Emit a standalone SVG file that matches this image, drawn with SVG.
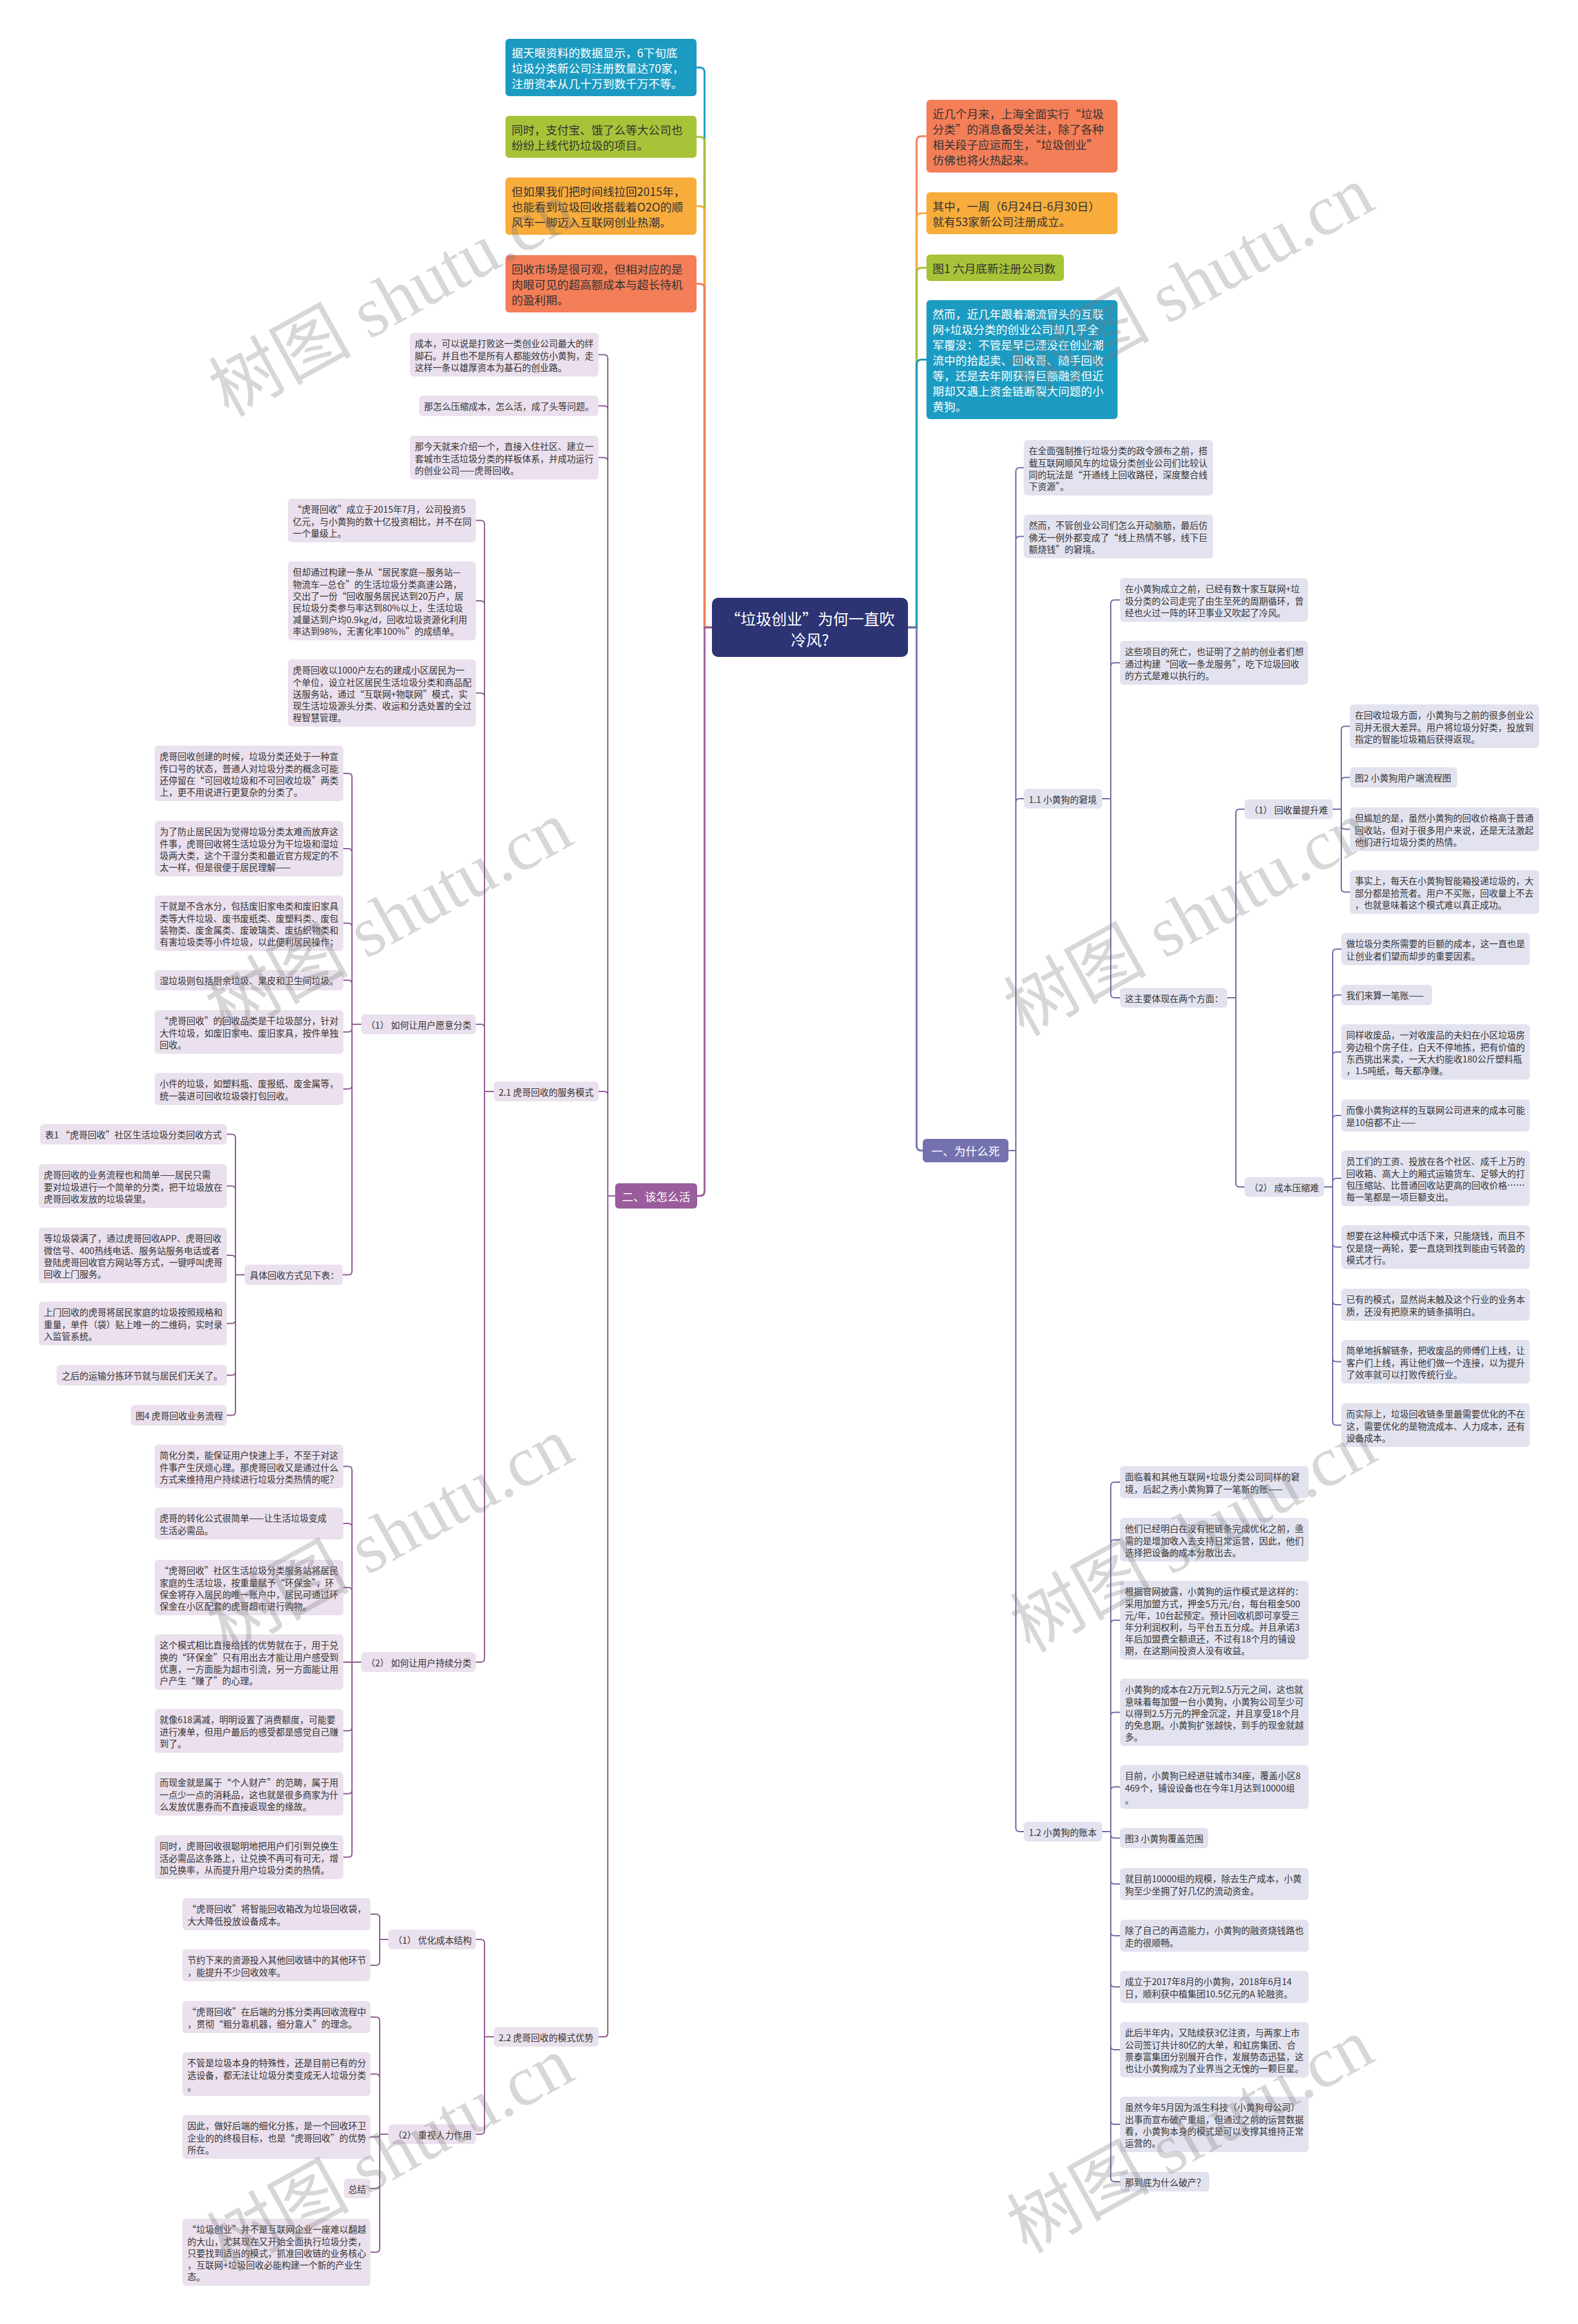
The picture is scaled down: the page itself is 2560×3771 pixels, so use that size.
<svg xmlns="http://www.w3.org/2000/svg" width="2560" height="3771" viewBox="0 0 2560 3771">
<style>
.s{font-family:"Noto Sans CJK SC","Noto Sans",sans-serif;font-size:14.5px;fill:#333;dominant-baseline:central}
.b{font-family:"Noto Sans CJK SC","Noto Sans",sans-serif;font-size:18.5px;fill:#333;dominant-baseline:central}
.c{font-family:"Noto Sans CJK SC","Noto Sans",sans-serif;font-size:25px;fill:#fff;dominant-baseline:central;text-anchor:middle}
.w{fill:#fff}
.nl{fill:#ebe0ed}
.nr{fill:#e3e3f0}
.cl{fill:none;stroke:#8c5a90;stroke-width:2}
.cr{fill:none;stroke:#6b6ba4;stroke-width:2}
.m{fill:none;stroke-width:3}
.wm{font-family:"Liberation Serif","Noto Sans CJK SC",serif;font-size:116px;fill:#7a7a7a;fill-opacity:0.3;text-anchor:middle}
</style>
<rect width="2560" height="3771" fill="#fff"/>
<g id="connectors">
<path class="m" stroke="#1b9bc2" d="M1155 1018 H1143 V117.5 Q1143 109.5 1135 109.5 H1130"/>
<path class="m" stroke="#a7c338" d="M1155 1018 H1143 V230 Q1143 222 1135 222 H1130"/>
<path class="m" stroke="#f8ac3b" d="M1155 1018 H1143 V342.5 Q1143 334.5 1135 334.5 H1130"/>
<path class="m" stroke="#f47e58" d="M1155 1018 H1143 V468.5 Q1143 460.5 1135 460.5 H1130"/>
<path class="m" stroke="#9a5c9c" d="M1155 1018 H1143 V1932.5 Q1143 1940.5 1135 1940.5 H1131"/>
<path class="m" stroke="#f47e58" d="M1473 1018 H1487 V229 Q1487 221 1495 221 H1503"/>
<path class="m" stroke="#f8ac3b" d="M1473 1018 H1487 V354 Q1487 346 1495 346 H1503"/>
<path class="m" stroke="#a7c338" d="M1473 1018 H1487 V442.5 Q1487 434.5 1495 434.5 H1503"/>
<path class="m" stroke="#1b9bc2" d="M1473 1018 H1487 V591.5 Q1487 583.5 1495 583.5 H1503"/>
<path class="m" stroke="#7472ae" d="M1473 1018 H1487 V1859 Q1487 1867 1495 1867 H1497"/>
<path class="cl" d="M998 1940.5 H986 M986 581.5 V3299 M986 581.5 Q986 575.5 980 575.5 H971 M986 664.5 Q986 658.5 980 658.5 H971 M986 748.5 Q986 742.5 980 742.5 H971 M986 1777 Q986 1771 980 1771 H971 M986 3299 Q986 3305 980 3305 H971"/>
<path class="cl" d="M801 1771 H786 M786 850.5 V2691 M786 850.5 Q786 844.5 780 844.5 H772 M786 981 Q786 975 780 975 H772 M786 1130.5 Q786 1124.5 780 1124.5 H772 M786 1668 Q786 1662 780 1662 H772 M786 2691 Q786 2697 780 2697 H772"/>
<path class="cl" d="M586 1662 H571 M571 1261 V2062.5 M571 1261 Q571 1255 565 1255 H557 M571 1383 Q571 1377 565 1377 H557 M571 1504 Q571 1498 565 1498 H557 M571 1596.5 Q571 1590.5 565 1590.5 H557 M571 1668.5 Q571 1674.5 565 1674.5 H557 M571 1761 Q571 1767 565 1767 H557 M571 2062.5 Q571 2068.5 565 2068.5 H556"/>
<path class="cl" d="M397 2068.5 H382 M382 1846.5 V2290.5 M382 1846.5 Q382 1840.5 376 1840.5 H368 M382 1930.5 Q382 1924.5 376 1924.5 H368 M382 2043 Q382 2037 376 2037 H368 M382 2141.5 Q382 2147.5 376 2147.5 H368 M382 2225.5 Q382 2231.5 376 2231.5 H368 M382 2290.5 Q382 2296.5 376 2296.5 H368"/>
<path class="cl" d="M586 2697 H557 M571 2385.5 V3007.5 M571 2385.5 Q571 2379.5 565 2379.5 H557 M571 2478 Q571 2472 565 2472 H557 M571 2582 Q571 2576 565 2576 H557 M571 2802.5 Q571 2808.5 565 2808.5 H557 M571 2904.5 Q571 2910.5 565 2910.5 H557 M571 3007.5 Q571 3013.5 565 3013.5 H557"/>
<path class="cl" d="M801 3305 H786 M786 3153 V3457 M786 3153 Q786 3147 780 3147 H772 M786 3457 Q786 3463 780 3463 H772"/>
<path class="cl" d="M630 3147 H616 M616 3112 V3183 M616 3112 Q616 3106 610 3106 H601 M616 3183 Q616 3189 610 3189 H601"/>
<path class="cl" d="M630 3463 H616 M616 3279 V3648.5 M616 3279 Q616 3273 610 3273 H601 M616 3371.5 Q616 3365.5 610 3365.5 H601 M616 3463 Q616 3467.5 611.5 3467.5 H601 M616 3545 Q616 3551 610 3551 H601 M616 3648.5 Q616 3654.5 610 3654.5 H601"/>
<path class="cr" d="M1636 1867 H1648 M1648 765 V2966 M1648 765 Q1648 759 1654 759 H1661 M1648 876.5 Q1648 870.5 1654 870.5 H1661 M1648 1302 Q1648 1296 1654 1296 H1661 M1648 2966 Q1648 2972 1654 2972 H1661"/>
<path class="cr" d="M1788 1296 H1802 M1802 979.5 V1613 M1802 979.5 Q1802 973.5 1808 973.5 H1817 M1802 1081.5 Q1802 1075.5 1808 1075.5 H1817 M1802 1613 Q1802 1619 1808 1619 H1817"/>
<path class="cr" d="M1991 1619 H2005 M2005 1319 V1920 M2005 1319 Q2005 1313 2011 1313 H2019 M2005 1920 Q2005 1926 2011 1926 H2019"/>
<path class="cr" d="M2162 1313 H2176 M2176 1184.5 V1441.5 M2176 1184.5 Q2176 1178.5 2182 1178.5 H2190 M2176 1267.5 Q2176 1261.5 2182 1261.5 H2190 M2176 1339.5 Q2176 1345.5 2182 1345.5 H2190 M2176 1441.5 Q2176 1447.5 2182 1447.5 H2190"/>
<path class="cr" d="M2148 1926 H2162 M2162 1546 V2306.5 M2162 1546 Q2162 1540 2168 1540 H2176 M2162 1620.5 Q2162 1614.5 2168 1614.5 H2176 M2162 1713 Q2162 1707 2168 1707 H2176 M2162 1816 Q2162 1810 2168 1810 H2176 M2162 1918 Q2162 1912 2168 1912 H2176 M2162 2017.5 Q2162 2023.5 2168 2023.5 H2176 M2162 2111 Q2162 2117 2168 2117 H2176 M2162 2203.5 Q2162 2209.5 2168 2209.5 H2176 M2162 2306.5 Q2162 2312.5 2168 2312.5 H2176"/>
<path class="cr" d="M1788 2972 H1802 M1802 2411 V3534 M1802 2411 Q1802 2405 1808 2405 H1817 M1802 2504.5 Q1802 2498.5 1808 2498.5 H1817 M1802 2635 Q1802 2629 1808 2629 H1817 M1802 2784.5 Q1802 2778.5 1808 2778.5 H1817 M1802 2905.5 Q1802 2899.5 1808 2899.5 H1817 M1802 2976.5 Q1802 2982.5 1808 2982.5 H1817 M1802 3051 Q1802 3057 1808 3057 H1817 M1802 3135 Q1802 3141 1808 3141 H1817 M1802 3218 Q1802 3224 1808 3224 H1817 M1802 3320 Q1802 3326 1808 3326 H1817 M1802 3441 Q1802 3447 1808 3447 H1817 M1802 3534 Q1802 3540 1808 3540 H1817"/>
</g>

<g id="center"><rect x="1155" y="970" width="318" height="96" rx="10" fill="#2c3474"/><text class="c" x="1314" y="1003">“垃圾创业”为何一直吹<tspan x="1314" dy="34">冷风?</tspan></text></g>

<g id="n-top-a"><rect x="820" y="63" width="310" height="93" rx="6" fill="#1b9bc2"/><text class="b w" x="830" y="84.5">据天眼资料的数据显示，6下旬底<tspan x="830" dy="25">垃圾分类新公司注册数量达70家，</tspan><tspan x="830" dy="25">注册资本从几十万到数千万不等。</tspan></text></g>
<g id="n-top-b"><rect x="820" y="188" width="310" height="68" rx="6" fill="#a7c338"/><text class="b" x="830" y="209.5">同时，支付宝、饿了么等大公司也<tspan x="830" dy="25">纷纷上线代扔垃圾的项目。</tspan></text></g>
<g id="n-top-c"><rect x="820" y="288" width="310" height="93" rx="6" fill="#f8ac3b"/><text class="b" x="830" y="309.5">但如果我们把时间线拉回2015年，<tspan x="830" dy="25">也能看到垃圾回收搭载着O2O的顺</tspan><tspan x="830" dy="25">风车一脚迈入互联网创业热潮。</tspan></text></g>
<g id="n-top-d"><rect x="820" y="414" width="310" height="93" rx="6" fill="#f47e58"/><text class="b" x="830" y="435.5">回收市场是很可观，但相对应的是<tspan x="830" dy="25">肉眼可见的超高额成本与超长待机</tspan><tspan x="830" dy="25">的盈利期。</tspan></text></g>
<g id="n-top-e"><rect x="1503" y="162" width="310" height="118" rx="6" fill="#f47e58"/><text class="b" x="1513" y="183.5">近几个月来，上海全面实行“垃圾<tspan x="1513" dy="25">分类”的消息备受关注，除了各种</tspan><tspan x="1513" dy="25">相关段子应运而生，“垃圾创业”</tspan><tspan x="1513" dy="25">仿佛也将火热起来。</tspan></text></g>
<g id="n-top-f"><rect x="1503" y="312" width="310" height="68" rx="6" fill="#f8ac3b"/><text class="b" x="1513" y="333.5">其中，一周（6月24日-6月30日）<tspan x="1513" dy="25">就有53家新公司注册成立。</tspan></text></g>
<g id="n-top-g"><rect x="1503" y="413" width="223" height="43" rx="6" fill="#a7c338"/><text class="b" x="1513" y="434.5">图1 六月底新注册公司数</text></g>
<g id="n-top-h"><rect x="1503" y="487" width="310" height="193" rx="6" fill="#1b9bc2"/><text class="b w" x="1513" y="508.5">然而，近几年跟着潮流冒头的互联<tspan x="1513" dy="25">网+垃圾分类的创业公司却几乎全</tspan><tspan x="1513" dy="25">军覆没：不管是早已湮没在创业潮</tspan><tspan x="1513" dy="25">流中的拾起卖、回收哥、随手回收</tspan><tspan x="1513" dy="25">等，还是去年刚获得巨额融资但近</tspan><tspan x="1513" dy="25">期却又遇上资金链断裂大问题的小</tspan><tspan x="1513" dy="25">黄狗。</tspan></text></g>

<g id="n-branch-1"><rect x="1497" y="1848" width="139" height="38" rx="6" fill="#7472ae"/><text class="b w" x="1566.5" y="1867" text-anchor="middle">一、为什么死</text></g>
<g id="n-branch-2"><rect x="998" y="1920" width="133" height="41" rx="6" fill="#9a5c9c"/><text class="b w" x="1064.5" y="1940.5" text-anchor="middle">二、该怎么活</text></g>

<g id="n-l1"><rect class="nl" x="665" y="540" width="306" height="71" rx="6"/><text class="s" x="673" y="556.5">成本，可以说是打败这一类创业公司最大的绊<tspan x="673" dy="19">脚石。并且也不是所有人都能效仿小黄狗，走</tspan><tspan x="673" dy="19">这样一条以雄厚资本为基石的创业路。</tspan></text></g>
<g id="n-l2"><rect class="nl" x="680" y="642" width="291" height="33" rx="6"/><text class="s" x="688" y="658.5">那怎么压缩成本，怎么活，成了头等问题。</text></g>
<g id="n-l3"><rect class="nl" x="665" y="707" width="306" height="71" rx="6"/><text class="s" x="673" y="723.5">那今天就来介绍一个，直接入住社区、建立一<tspan x="673" dy="19">套城市生活垃圾分类的样板体系，并成功运行</tspan><tspan x="673" dy="19">的创业公司——虎哥回收。</tspan></text></g>
<g id="n-l21"><rect class="nl" x="801" y="1755" width="170" height="32" rx="6"/><text class="s" x="809" y="1771">2.1 虎哥回收的服务模式</text></g>
<g id="n-l22"><rect class="nl" x="801" y="3289" width="170" height="32" rx="6"/><text class="s" x="809" y="3305">2.2 虎哥回收的模式优势</text></g>

<g id="n-l4"><rect class="nl" x="467" y="809" width="305" height="71" rx="6"/><text class="s" x="475" y="825.5">“虎哥回收”成立于2015年7月，公司投资5<tspan x="475" dy="19">亿元，与小黄狗的数十亿投资相比，并不在同</tspan><tspan x="475" dy="19">一个量级上。</tspan></text></g>
<g id="n-l5"><rect class="nl" x="467" y="911" width="305" height="128" rx="6"/><text class="s" x="475" y="927.5">但却通过构建一条从“居民家庭—服务站—<tspan x="475" dy="19">物流车—总仓”的生活垃圾分类高速公路，</tspan><tspan x="475" dy="19">交出了一份“回收服务居民达到20万户，居</tspan><tspan x="475" dy="19">民垃圾分类参与率达到80%以上，生活垃圾</tspan><tspan x="475" dy="19">减量达到户均0.9kg/d，回收垃圾资源化利用</tspan><tspan x="475" dy="19">率达到98%，无害化率100%”的成绩单。</tspan></text></g>
<g id="n-l6"><rect class="nl" x="467" y="1070" width="305" height="109" rx="6"/><text class="s" x="475" y="1086.5">虎哥回收以1000户左右的建成小区居民为一<tspan x="475" dy="19">个单位，设立社区居民生活垃圾分类和商品配</tspan><tspan x="475" dy="19">送服务站，通过“互联网+物联网”模式，实</tspan><tspan x="475" dy="19">现生活垃圾源头分类、收运和分选处置的全过</tspan><tspan x="475" dy="19">程智慧管理。</tspan></text></g>
<g id="n-l7"><rect class="nl" x="586" y="1646" width="186" height="32" rx="6"/><text class="s" x="594" y="1662">（1） 如何让用户愿意分类</text></g>
<g id="n-l8"><rect class="nl" x="586" y="2681" width="186" height="32" rx="6"/><text class="s" x="594" y="2697">（2） 如何让用户持续分类</text></g>

<g id="n-l9"><rect class="nl" x="251" y="1210" width="306" height="90" rx="6"/><text class="s" x="259" y="1226.5">虎哥回收创建的时候，垃圾分类还处于一种宣<tspan x="259" dy="19">传口号的状态，普通人对垃圾分类的概念可能</tspan><tspan x="259" dy="19">还停留在“可回收垃圾和不可回收垃圾”两类</tspan><tspan x="259" dy="19">上，更不用说进行更复杂的分类了。</tspan></text></g>
<g id="n-l10"><rect class="nl" x="251" y="1332" width="306" height="90" rx="6"/><text class="s" x="259" y="1348.5">为了防止居民因为觉得垃圾分类太难而放弃这<tspan x="259" dy="19">件事，虎哥回收将生活垃圾分为干垃圾和湿垃</tspan><tspan x="259" dy="19">圾两大类，这个干湿分类和最近官方规定的不</tspan><tspan x="259" dy="19">太一样，但是很便于居民理解——</tspan></text></g>
<g id="n-l11"><rect class="nl" x="251" y="1453" width="306" height="90" rx="6"/><text class="s" x="259" y="1469.5">干就是不含水分，包括废旧家电类和废旧家具<tspan x="259" dy="19">类等大件垃圾、废书废纸类、废塑料类、废包</tspan><tspan x="259" dy="19">装物类、废金属类、废玻璃类、废纺织物类和</tspan><tspan x="259" dy="19">有害垃圾类等小件垃圾，以此便利居民操作；</tspan></text></g>
<g id="n-l12"><rect class="nl" x="251" y="1574" width="306" height="33" rx="6"/><text class="s" x="259" y="1590.5">湿垃圾则包括厨余垃圾、果皮和卫生间垃圾。</text></g>
<g id="n-l13"><rect class="nl" x="251" y="1639" width="306" height="71" rx="6"/><text class="s" x="259" y="1655.5">“虎哥回收”的回收品类是干垃圾部分，针对<tspan x="259" dy="19">大件垃圾，如废旧家电、废旧家具，按件单独</tspan><tspan x="259" dy="19">回收。</tspan></text></g>
<g id="n-l14"><rect class="nl" x="251" y="1741" width="306" height="52" rx="6"/><text class="s" x="259" y="1757.5">小件的垃圾，如塑料瓶、废报纸、废金属等，<tspan x="259" dy="19">统一装进可回收垃圾袋打包回收。</tspan></text></g>
<g id="n-l15"><rect class="nl" x="397" y="2052" width="159" height="33" rx="6"/><text class="s" x="405" y="2068.5">具体回收方式见下表：</text></g>

<g id="n-l16"><rect class="nl" x="65" y="1824" width="303" height="33" rx="6"/><text class="s" x="73" y="1840.5">表1 “虎哥回收”社区生活垃圾分类回收方式</text></g>
<g id="n-l17"><rect class="nl" x="63" y="1889" width="305" height="71" rx="6"/><text class="s" x="71" y="1905.5">虎哥回收的业务流程也和简单——居民只需<tspan x="71" dy="19">要对垃圾进行一个简单的分类，把干垃圾放在</tspan><tspan x="71" dy="19">虎哥回收发放的垃圾袋里。</tspan></text></g>
<g id="n-l18"><rect class="nl" x="63" y="1992" width="305" height="90" rx="6"/><text class="s" x="71" y="2008.5">等垃圾袋满了，通过虎哥回收APP、虎哥回收<tspan x="71" dy="19">微信号、400热线电话、服务站服务电话或者</tspan><tspan x="71" dy="19">登陆虎哥回收官方网站等方式，一键呼叫虎哥</tspan><tspan x="71" dy="19">回收上门服务。</tspan></text></g>
<g id="n-l19"><rect class="nl" x="63" y="2112" width="305" height="71" rx="6"/><text class="s" x="71" y="2128.5">上门回收的虎哥将居民家庭的垃圾按照规格和<tspan x="71" dy="19">重量，单件（袋）贴上唯一的二维码，实时录</tspan><tspan x="71" dy="19">入监管系统。</tspan></text></g>
<g id="n-l20"><rect class="nl" x="92" y="2215" width="276" height="33" rx="6"/><text class="s" x="100" y="2231.5">之后的运输分拣环节就与居民们无关了。</text></g>
<g id="n-l23"><rect class="nl" x="212" y="2280" width="156" height="33" rx="6"/><text class="s" x="220" y="2296.5">图4 虎哥回收业务流程</text></g>

<g id="n-l24"><rect class="nl" x="251" y="2344" width="306" height="71" rx="6"/><text class="s" x="259" y="2360.5">简化分类，能保证用户快速上手，不至于对这<tspan x="259" dy="19">件事产生厌烦心理。那虎哥回收又是通过什么</tspan><tspan x="259" dy="19">方式来维持用户持续进行垃圾分类热情的呢？</tspan></text></g>
<g id="n-l25"><rect class="nl" x="251" y="2446" width="306" height="52" rx="6"/><text class="s" x="259" y="2462.5">虎哥的转化公式很简单——让生活垃圾变成<tspan x="259" dy="19">生活必需品。</tspan></text></g>
<g id="n-l26"><rect class="nl" x="251" y="2531" width="306" height="90" rx="6"/><text class="s" x="259" y="2547.5">“虎哥回收”社区生活垃圾分类服务站将居民<tspan x="259" dy="19">家庭的生活垃圾，按重量赋予“环保金”，环</tspan><tspan x="259" dy="19">保金将存入居民的唯一账户中，居民可通过环</tspan><tspan x="259" dy="19">保金在小区配套的虎哥超市进行购物。</tspan></text></g>
<g id="n-l27"><rect class="nl" x="251" y="2652" width="306" height="90" rx="6"/><text class="s" x="259" y="2668.5">这个模式相比直接给钱的优势就在于，用于兑<tspan x="259" dy="19">换的“环保金”只有用出去才能让用户感受到</tspan><tspan x="259" dy="19">优惠，一方面能为超市引流，另一方面能让用</tspan><tspan x="259" dy="19">户产生“赚了”的心理。</tspan></text></g>
<g id="n-l28"><rect class="nl" x="251" y="2773" width="306" height="71" rx="6"/><text class="s" x="259" y="2789.5">就像618满减，明明设置了消费额度，可能要<tspan x="259" dy="19">进行凑单，但用户最后的感受都是感觉自己赚</tspan><tspan x="259" dy="19">到了。</tspan></text></g>
<g id="n-l29"><rect class="nl" x="251" y="2875" width="306" height="71" rx="6"/><text class="s" x="259" y="2891.5">而现金就是属于“个人财产”的范畴，属于用<tspan x="259" dy="19">一点少一点的消耗品，这也就是很多商家为什</tspan><tspan x="259" dy="19">么发放优惠券而不直接返现金的缘故。</tspan></text></g>
<g id="n-l30"><rect class="nl" x="251" y="2978" width="306" height="71" rx="6"/><text class="s" x="259" y="2994.5">同时，虎哥回收很聪明地把用户们引到兑换生<tspan x="259" dy="19">活必需品这条路上，让兑换不再可有可无，增</tspan><tspan x="259" dy="19">加兑换率，从而提升用户垃圾分类的热情。</tspan></text></g>

<g id="n-l31"><rect class="nl" x="630" y="3131" width="142" height="32" rx="6"/><text class="s" x="638" y="3147">（1） 优化成本结构</text></g>
<g id="n-l32"><rect class="nl" x="630" y="3447" width="142" height="32" rx="6"/><text class="s" x="638" y="3463">（2） 重视人力作用</text></g>
<g id="n-l33"><rect class="nl" x="296" y="3080" width="305" height="52" rx="6"/><text class="s" x="304" y="3096.5">“虎哥回收”将智能回收箱改为垃圾回收袋，<tspan x="304" dy="19">大大降低投放设备成本。</tspan></text></g>
<g id="n-l34"><rect class="nl" x="296" y="3163" width="305" height="52" rx="6"/><text class="s" x="304" y="3179.5">节约下来的资源投入其他回收链中的其他环节<tspan x="304" dy="19">，能提升不少回收效率。</tspan></text></g>
<g id="n-l35"><rect class="nl" x="296" y="3247" width="305" height="52" rx="6"/><text class="s" x="304" y="3263.5">“虎哥回收”在后端的分拣分类再回收流程中<tspan x="304" dy="19">，贯彻“粗分靠机器，细分靠人”的理念。</tspan></text></g>
<g id="n-l36"><rect class="nl" x="296" y="3330" width="305" height="71" rx="6"/><text class="s" x="304" y="3346.5">不管是垃圾本身的特殊性，还是目前已有的分<tspan x="304" dy="19">选设备，都无法让垃圾分类变成无人垃圾分类</tspan><tspan x="304" dy="19">。</tspan></text></g>
<g id="n-l37"><rect class="nl" x="296" y="3432" width="305" height="71" rx="6"/><text class="s" x="304" y="3448.5">因此，做好后端的细化分拣，是一个回收环卫<tspan x="304" dy="19">企业的的终极目标，也是“虎哥回收”的优势</tspan><tspan x="304" dy="19">所在。</tspan></text></g>
<g id="n-l38"><rect class="nl" x="558" y="3535" width="43" height="32" rx="6"/><text class="s" x="565" y="3551">总结</text></g>
<g id="n-l39"><rect class="nl" x="296" y="3600" width="305" height="109" rx="6"/><text class="s" x="304" y="3616.5">“垃圾创业”并不是互联网企业一座难以翻越<tspan x="304" dy="19">的大山，尤其现在又开始全面执行垃圾分类，</tspan><tspan x="304" dy="19">只要找到适当的模式，抓准回收链的业务核心</tspan><tspan x="304" dy="19">，互联网+垃圾回收必能构建一个新的产业生</tspan><tspan x="304" dy="19">态。</tspan></text></g>

<g id="n-r1"><rect class="nr" x="1661" y="714" width="307" height="90" rx="6"/><text class="s" x="1669" y="730.5">在全面强制推行垃圾分类的政令颁布之前，搭<tspan x="1669" dy="19">载互联网顺风车的垃圾分类创业公司们比较认</tspan><tspan x="1669" dy="19">同的玩法是“开通线上回收路径，深度整合线</tspan><tspan x="1669" dy="19">下资源”。</tspan></text></g>
<g id="n-r2"><rect class="nr" x="1661" y="835" width="307" height="71" rx="6"/><text class="s" x="1669" y="851.5">然而，不管创业公司们怎么开动脑筋，最后仿<tspan x="1669" dy="19">佛无一例外都变成了“线上热情不够，线下巨</tspan><tspan x="1669" dy="19">额烧钱”的窘境。</tspan></text></g>
<g id="n-r11"><rect class="nr" x="1661" y="1280" width="127" height="32" rx="6"/><text class="s" x="1669" y="1296">1.1 小黄狗的窘境</text></g>
<g id="n-r12"><rect class="nr" x="1661" y="2956" width="127" height="32" rx="6"/><text class="s" x="1669" y="2972">1.2 小黄狗的账本</text></g>

<g id="n-r3"><rect class="nr" x="1817" y="938" width="305" height="71" rx="6"/><text class="s" x="1825" y="954.5">在小黄狗成立之前，已经有数十家互联网+垃<tspan x="1825" dy="19">圾分类的公司走完了由生至死的周期循环，曾</tspan><tspan x="1825" dy="19">经也火过一阵的环卫事业又吹起了冷风。</tspan></text></g>
<g id="n-r4"><rect class="nr" x="1817" y="1040" width="305" height="71" rx="6"/><text class="s" x="1825" y="1056.5">这些项目的死亡，也证明了之前的创业者们想<tspan x="1825" dy="19">通过构建“回收一条龙服务”，吃下垃圾回收</tspan><tspan x="1825" dy="19">的方式是难以执行的。</tspan></text></g>
<g id="n-r5"><rect class="nr" x="1817" y="1603" width="174" height="32" rx="6"/><text class="s" x="1825" y="1619">这主要体现在两个方面：</text></g>
<g id="n-r6"><rect class="nr" x="2019" y="1297" width="143" height="32" rx="6"/><text class="s" x="2027" y="1313">（1） 回收量提升难</text></g>
<g id="n-r7"><rect class="nr" x="2019" y="1910" width="129" height="32" rx="6"/><text class="s" x="2027" y="1926">（2） 成本压缩难</text></g>

<g id="n-r8"><rect class="nr" x="2190" y="1143" width="307" height="71" rx="6"/><text class="s" x="2198" y="1159.5">在回收垃圾方面，小黄狗与之前的很多创业公<tspan x="2198" dy="19">司并无很大差异。用户将垃圾分好类，投放到</tspan><tspan x="2198" dy="19">指定的智能垃圾箱后获得返现。</tspan></text></g>
<g id="n-r9"><rect class="nr" x="2190" y="1245" width="174" height="33" rx="6"/><text class="s" x="2198" y="1261.5">图2 小黄狗用户端流程图</text></g>
<g id="n-r10"><rect class="nr" x="2190" y="1310" width="307" height="71" rx="6"/><text class="s" x="2198" y="1326.5">但尴尬的是，虽然小黄狗的回收价格高于普通<tspan x="2198" dy="19">回收站，但对于很多用户来说，还是无法激起</tspan><tspan x="2198" dy="19">他们进行垃圾分类的热情。</tspan></text></g>
<g id="n-r13"><rect class="nr" x="2190" y="1412" width="307" height="71" rx="6"/><text class="s" x="2198" y="1428.5">事实上，每天在小黄狗智能箱投递垃圾的，大<tspan x="2198" dy="19">部分都是拾荒者。用户不买账，回收量上不去</tspan><tspan x="2198" dy="19">，也就意味着这个模式难以真正成功。</tspan></text></g>

<g id="n-r14"><rect class="nr" x="2176" y="1514" width="306" height="52" rx="6"/><text class="s" x="2184" y="1530.5">做垃圾分类所需要的巨额的成本，这一直也是<tspan x="2184" dy="19">让创业者们望而却步的重要因素。</tspan></text></g>
<g id="n-r15"><rect class="nr" x="2176" y="1598" width="147" height="33" rx="6"/><text class="s" x="2184" y="1614.5">我们来算一笔账——</text></g>
<g id="n-r16"><rect class="nr" x="2176" y="1662" width="306" height="90" rx="6"/><text class="s" x="2184" y="1678.5">同样收废品，一对收废品的夫妇在小区垃圾房<tspan x="2184" dy="19">旁边租个房子住，白天不停地拣，把有价值的</tspan><tspan x="2184" dy="19">东西挑出来卖，一天大约能收180公斤塑料瓶</tspan><tspan x="2184" dy="19">，1.5吨纸，每天都净赚。</tspan></text></g>
<g id="n-r17"><rect class="nr" x="2176" y="1784" width="306" height="52" rx="6"/><text class="s" x="2184" y="1800.5">而像小黄狗这样的互联网公司进来的成本可能<tspan x="2184" dy="19">是10倍都不止——</tspan></text></g>
<g id="n-r18"><rect class="nr" x="2176" y="1867" width="306" height="90" rx="6"/><text class="s" x="2184" y="1883.5">员工们的工资、投放在各个社区、成千上万的<tspan x="2184" dy="19">回收箱、高大上的厢式运输货车、足够大的打</tspan><tspan x="2184" dy="19">包压缩站、比普通回收站更高的回收价格……</tspan><tspan x="2184" dy="19">每一笔都是一项巨额支出。</tspan></text></g>
<g id="n-r19"><rect class="nr" x="2176" y="1988" width="306" height="71" rx="6"/><text class="s" x="2184" y="2004.5">想要在这种模式中活下来，只能烧钱，而且不<tspan x="2184" dy="19">仅是烧一两轮，要一直烧到找到能由亏转盈的</tspan><tspan x="2184" dy="19">模式才行。</tspan></text></g>
<g id="n-r20"><rect class="nr" x="2176" y="2091" width="306" height="52" rx="6"/><text class="s" x="2184" y="2107.5">已有的模式，显然尚未触及这个行业的业务本<tspan x="2184" dy="19">质，还没有把原来的链条搞明白。</tspan></text></g>
<g id="n-r21"><rect class="nr" x="2176" y="2174" width="306" height="71" rx="6"/><text class="s" x="2184" y="2190.5">简单地拆解链条，把收废品的师傅们上线，让<tspan x="2184" dy="19">客户们上线，再让他们做一个连接，以为提升</tspan><tspan x="2184" dy="19">了效率就可以打败传统行业。</tspan></text></g>
<g id="n-r22"><rect class="nr" x="2176" y="2277" width="306" height="71" rx="6"/><text class="s" x="2184" y="2293.5">而实际上，垃圾回收链条里最需要优化的不在<tspan x="2184" dy="19">这，需要优化的是物流成本、人力成本，还有</tspan><tspan x="2184" dy="19">设备成本。</tspan></text></g>

<g id="n-r23"><rect class="nr" x="1817" y="2379" width="306" height="52" rx="6"/><text class="s" x="1825" y="2395.5">面临着和其他互联网+垃圾分类公司同样的窘<tspan x="1825" dy="19">境，后起之秀小黄狗算了一笔新的账——</tspan></text></g>
<g id="n-r24"><rect class="nr" x="1817" y="2463" width="306" height="71" rx="6"/><text class="s" x="1825" y="2479.5">他们已经明白在没有把链条完成优化之前，亟<tspan x="1825" dy="19">需的是增加收入去支持日常运营，因此，他们</tspan><tspan x="1825" dy="19">选择把设备的成本分散出去。</tspan></text></g>
<g id="n-r25"><rect class="nr" x="1817" y="2565" width="306" height="128" rx="6"/><text class="s" x="1825" y="2581.5">根据官网披露，小黄狗的运作模式是这样的：<tspan x="1825" dy="19">采用加盟方式，押金5万元/台，每台租金500</tspan><tspan x="1825" dy="19">元/年，10台起预定。预计回收机即可享受三</tspan><tspan x="1825" dy="19">年分利润权利，与平台五五分成。并且承诺3</tspan><tspan x="1825" dy="19">年后加盟费全额退还，不过有18个月的铺设</tspan><tspan x="1825" dy="19">期，在这期间投资人没有收益。</tspan></text></g>
<g id="n-r26"><rect class="nr" x="1817" y="2724" width="306" height="109" rx="6"/><text class="s" x="1825" y="2740.5">小黄狗的成本在2万元到2.5万元之间，这也就<tspan x="1825" dy="19">意味着每加盟一台小黄狗，小黄狗公司至少可</tspan><tspan x="1825" dy="19">以得到2.5万元的押金沉淀，并且享受18个月</tspan><tspan x="1825" dy="19">的免息期。小黄狗扩张越快，到手的现金就越</tspan><tspan x="1825" dy="19">多。</tspan></text></g>
<g id="n-r27"><rect class="nr" x="1817" y="2864" width="306" height="71" rx="6"/><text class="s" x="1825" y="2880.5">目前，小黄狗已经进驻城市34座，覆盖小区8<tspan x="1825" dy="19">469个，铺设设备也在今年1月达到10000组</tspan><tspan x="1825" dy="19">。</tspan></text></g>
<g id="n-r28"><rect class="nr" x="1817" y="2966" width="143" height="33" rx="6"/><text class="s" x="1825" y="2982.5">图3 小黄狗覆盖范围</text></g>
<g id="n-r29"><rect class="nr" x="1817" y="3031" width="306" height="52" rx="6"/><text class="s" x="1825" y="3047.5">就目前10000组的规模，除去生产成本，小黄<tspan x="1825" dy="19">狗至少坐拥了好几亿的流动资金。</tspan></text></g>
<g id="n-r30"><rect class="nr" x="1817" y="3115" width="306" height="52" rx="6"/><text class="s" x="1825" y="3131.5">除了自己的再造能力，小黄狗的融资烧钱路也<tspan x="1825" dy="19">走的很顺畅。</tspan></text></g>
<g id="n-r31"><rect class="nr" x="1817" y="3198" width="306" height="52" rx="6"/><text class="s" x="1825" y="3214.5">成立于2017年8月的小黄狗，2018年6月14<tspan x="1825" dy="19">日，顺利获中植集团10.5亿元的A 轮融资。</tspan></text></g>
<g id="n-r32"><rect class="nr" x="1817" y="3281" width="306" height="90" rx="6"/><text class="s" x="1825" y="3297.5">此后半年内，又陆续获3亿注资，与两家上市<tspan x="1825" dy="19">公司签订共计80亿的大单，和虹房集团、合</tspan><tspan x="1825" dy="19">景泰富集团分别展开合作，发展势态迅猛，这</tspan><tspan x="1825" dy="19">也让小黄狗成为了业界当之无愧的一颗巨星。</tspan></text></g>
<g id="n-r33"><rect class="nr" x="1817" y="3402" width="306" height="90" rx="6"/><text class="s" x="1825" y="3418.5">虽然今年5月因为派生科技（小黄狗母公司）<tspan x="1825" dy="19">出事而宣布破产重组，但通过之前的运营数据</tspan><tspan x="1825" dy="19">看，小黄狗本身的模式是可以支撑其维持正常</tspan><tspan x="1825" dy="19">运营的。</tspan></text></g>
<g id="n-r34"><rect class="nr" x="1817" y="3524" width="145" height="32" rx="6"/><text class="s" x="1825" y="3540">那到底为什么破产？</text></g>

<g id="watermark">
<text class="wm" transform="translate(655 520) rotate(-29)">树图 shutu.cn</text>
<text class="wm" transform="translate(1950 495) rotate(-29)">树图 shutu.cn</text>
<text class="wm" transform="translate(650 1525) rotate(-29)">树图 shutu.cn</text>
<text class="wm" transform="translate(1945 1525) rotate(-29)">树图 shutu.cn</text>
<text class="wm" transform="translate(652 2525) rotate(-29)">树图 shutu.cn</text>
<text class="wm" transform="translate(1955 2525) rotate(-29)">树图 shutu.cn</text>
<text class="wm" transform="translate(652 3530) rotate(-29)">树图 shutu.cn</text>
<text class="wm" transform="translate(1950 3500) rotate(-29)">树图 shutu.cn</text>
</g>
</svg>
